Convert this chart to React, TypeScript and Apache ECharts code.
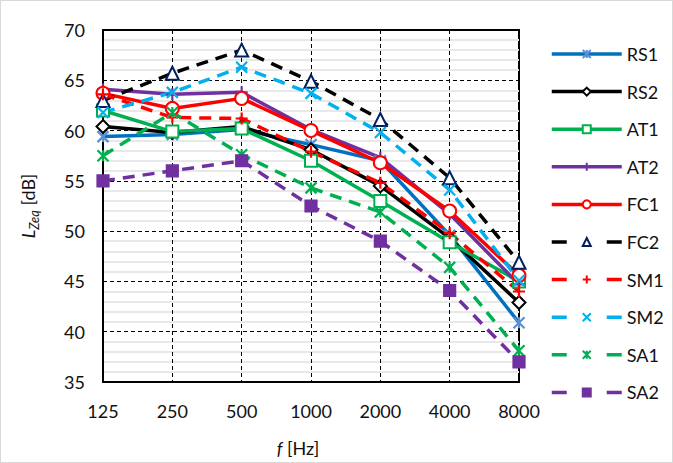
import { useEffect, useRef } from "react";
import * as echarts from "echarts";

// octave band centre frequencies [Hz]
const frequencies = ["125", "250", "500", "1000", "2000", "4000", "8000"];

// L_Zeq [dB] per measurement point
const rs1 = [59.4, 59.6, 60.1, 58.6, 57.0, 49.6, 40.9];
const rs2 = [60.4, 59.8, 60.4, 58.1, 54.5, 49.3, 42.9];
const at1 = [62.0, 59.9, 60.2, 57.0, 53.0, 48.9, 45.0];
const at2 = [64.1, 63.6, 63.8, 60.1, 57.3, 51.7, 44.7];
const fc1 = [63.7, 62.2, 63.2, 60.0, 56.8, 52.0, 45.6];
const fc2 = [63.0, 65.7, 68.0, 64.9, 61.1, 55.3, 46.9];
const sm1 = [63.6, 61.3, 61.2, 57.9, 54.8, 49.8, 44.0];
const sm2 = [61.8, 63.8, 66.3, 63.7, 59.8, 54.1, 45.1];
const sa1 = [57.5, 61.8, 57.6, 54.3, 51.9, 46.4, 38.1];
const sa2 = [55.0, 56.0, 57.0, 52.5, 49.0, 44.1, 37.0];

const FONT = "Lato";

// excel-like cross markers
const STAR = "path://M0,0L10,10M10,0L0,10M5,0L5,10";
const CROSS = "path://M0,0L10,10M10,0L0,10";
const PLUS = "path://M5,0L5,10M0,5L10,5";

type Def = {
  name: string;
  data: number[];
  line: string;
  mark: string;
  symbol: string;
  size: number;
  dashed?: boolean;
};

const defs: Def[] = [
  { name: "RS1", data: rs1, line: "#0070C0", mark: "#5B8FD4", symbol: STAR, size: 11 },
  { name: "RS2", data: rs2, line: "#000000", mark: "#000000", symbol: "emptyDiamond", size: 13 },
  { name: "AT1", data: at1, line: "#00B050", mark: "#00B050", symbol: "emptyRect", size: 12 },
  { name: "AT2", data: at2, line: "#7030A0", mark: "#7030A0", symbol: PLUS, size: 12 },
  { name: "FC1", data: fc1, line: "#FF0000", mark: "#FF0000", symbol: "emptyCircle", size: 13 },
  { name: "FC2", data: fc2, line: "#000000", mark: "#002060", symbol: "emptyTriangle", size: 13, dashed: true },
  { name: "SM1", data: sm1, line: "#FF0000", mark: "#FF0000", symbol: PLUS, size: 12, dashed: true },
  { name: "SM2", data: sm2, line: "#00B0F0", mark: "#00B0F0", symbol: CROSS, size: 11, dashed: true },
  { name: "SA1", data: sa1, line: "#00B050", mark: "#00B050", symbol: STAR, size: 11, dashed: true },
  { name: "SA2", data: sa2, line: "#7030A0", mark: "#7030A0", symbol: "rect", size: 11, dashed: true },
];

export default function App() {
  const ref = useRef<HTMLDivElement>(null);

  useEffect(() => {
    if (!ref.current) return;
    const chart = echarts.init(ref.current, undefined, { renderer: "svg" });

    chart.setOption({
      animation: false,
      backgroundColor: "#fff",
      textStyle: { fontFamily: FONT, color: "#111" },
      grid: {
        left: 102,
        top: 29,
        width: 416,
        height: 353,
        show: true,
        borderColor: "#000",
        borderWidth: 2,
        backgroundColor: "transparent",
      },
      legend: {
        orient: "vertical",
        left: 544,
        top: 39,
        itemWidth: 70,
        itemHeight: 10,
        itemGap: 19.6,
        textStyle: { fontFamily: FONT, fontSize: 18, color: "#111", lineHeight: 16 },
        data: defs.map((d) => ({
          name: d.name,
          lineStyle: { width: 3.5, color: d.line, type: d.dashed ? [15, 40] : "solid" },
        })),
      },
      xAxis: {
        type: "category",
        data: frequencies,
        boundaryGap: false,
        axisLine: { show: true, lineStyle: { color: "#000", width: 2 } },
        axisTick: { show: false },
        axisLabel: { fontFamily: FONT, fontSize: 18, color: "#111", margin: 20, interval: 0 },
        splitLine: { show: true, lineStyle: { color: "#000", type: [4, 3], width: 1 } },
        name: "{i|f} [Hz]",
        nameLocation: "middle",
        nameGap: 57,
        nameTextStyle: {
          fontFamily: FONT,
          fontSize: 18,
          color: "#111",
          padding: [0, 26, 0, 0],
          rich: { i: { fontFamily: FONT, fontSize: 18, fontStyle: "italic", color: "#111" } },
        },
      },
      yAxis: {
        type: "value",
        min: 35,
        max: 70,
        interval: 5,
        axisLine: { show: true, lineStyle: { color: "#000", width: 2 } },
        axisTick: { show: false },
        axisLabel: { fontFamily: FONT, fontSize: 18, color: "#111", margin: 18 },
        splitLine: { show: true, lineStyle: { color: "#000", type: [4, 3], width: 1 } },
        minorTick: { show: false, splitNumber: 5 },
        minorSplitLine: { show: true, lineStyle: { color: "#e8e8e8", width: 2 } },
        name: "{i|L}{sub|Zeq} [dB]",
        nameLocation: "middle",
        nameGap: 63,
        nameTextStyle: {
          fontFamily: FONT,
          fontSize: 18,
          color: "#111",
          lineHeight: 24,
          rich: {
            i: { fontFamily: FONT, fontSize: 18, fontStyle: "italic", color: "#111", lineHeight: 24 },
            sub: {
              fontFamily: FONT,
              fontSize: 13,
              fontStyle: "italic",
              color: "#111",
              lineHeight: 12,
              verticalAlign: "bottom",
            },
          },
        },
      },
      series: defs.map((d) => ({
        name: d.name,
        type: "line",
        data: d.data,
        symbol: d.symbol,
        symbolSize: d.size,
        showAllSymbol: true,
        lineStyle: { color: d.line, width: 3.5, type: d.dashed ? [12, 8] : "solid" },
        itemStyle: { color: d.mark, borderColor: d.mark, borderWidth: 2.2 },
        emphasis: { disabled: true },
      })),
    });

    return () => chart.dispose();
  }, []);

  return (
    <div
      style={{
        position: "fixed",
        left: 0,
        top: 0,
        width: 673,
        height: 463,
        border: "1px solid #d9d9d9",
        boxSizing: "border-box",
        background: "#fff",
      }}
    >
      <div ref={ref} style={{ width: 671, height: 461 }} />
    </div>
  );
}
